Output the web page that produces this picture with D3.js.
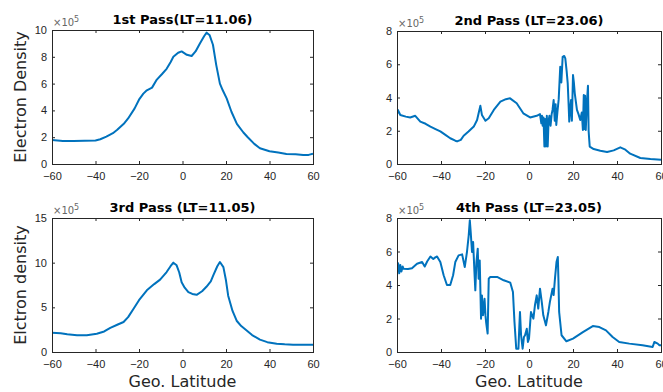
<!DOCTYPE html>
<html>
<head>
<meta charset="utf-8">
<script src="https://cdn.jsdelivr.net/npm/d3@7"></script>
<style>
  body { margin: 0; background: #fff; }
  svg { display: block; font-family: "DejaVu Sans", sans-serif; }
  .tick text { fill: #262626; font-size: 11px; }
  .tick line { stroke: #262626; }
</style>
</head>
<body>
<script>
// values in units of 1e5
const lat1 = [-60, -55, -50, -45, -40, -37.8, -35, -32, -30, -27, -25, -22, -20, -18, -16.4, -14, -11.8, -9.5, -7.3, -5.5, -4.2, -2, -0.4, 2, 4.2, 6, 8, 10, 11.1, 12.5, 14, 15.5, 17.2, 18.5, 20.3, 22.5, 25, 28, 30, 33, 35.6, 40, 44, 47.8, 52, 55.5, 58, 60];
const ne1  = [1.79, 1.72, 1.72, 1.74, 1.76, 1.85, 2.04, 2.3, 2.55, 3.0, 3.4, 4.15, 4.8, 5.25, 5.5, 5.7, 6.3, 6.7, 7.1, 7.6, 8.0, 8.3, 8.4, 8.15, 8.06, 8.4, 9.0, 9.55, 9.8, 9.6, 8.9, 7.4, 6.0, 5.5, 4.9, 3.9, 3.0, 2.35, 2.0, 1.5, 1.17, 0.95, 0.85, 0.75, 0.72, 0.67, 0.68, 0.77];

const lat2 = [-60, -59.6, -58.5, -56, -54, -51.7, -49.4, -47, -44.8, -42.5, -40.3, -38, -35.8, -33.5, -32.7, -31, -29.7, -27.5, -25.1, -23.6, -22.9, -22.1, -21.4, -19.8, -18.3, -16, -13, -10.5, -8.6, -5.6, -2.6, 0.5, 3.5, 5, 5.6, 5.9, 6.2, 6.6, 7, 7.3, 7.7, 8.1, 8.5, 8.9, 9.3, 9.8, 10.3, 10.7, 11.2, 11.7, 12.1, 12.4, 12.9, 13.5, 14.2, 14.7, 15.3, 16.0, 16.5, 17.1, 17.6, 18.0, 18.3, 18.7, 19.1, 19.5, 20, 20.4, 20.8, 21.8, 22.5, 23.3, 24.0, 24.5, 24.9, 25.2, 25.5, 25.8, 26.1, 26.4, 26.8, 27.1, 27.3, 27.6, 29.4, 32.4, 35.5, 38.5, 41.5, 43.8, 46, 50.6, 55.2, 60];
const ne2  = [3.0, 3.25, 2.95, 2.85, 2.8, 2.9, 2.55, 2.42, 2.25, 2.1, 1.96, 1.75, 1.55, 1.4, 1.36, 1.45, 1.7, 1.95, 2.25, 2.65, 3.05, 3.5, 2.95, 2.6, 2.75, 3.25, 3.75, 3.9, 3.95, 3.65, 3.05, 2.8, 2.9, 3.0, 2.45, 2.9, 2.3, 2.8, 1.05, 2.7, 1.05, 2.9, 1.05, 2.6, 2.9, 2.3, 3.0, 3.25, 3.85, 2.6, 3.6, 2.35, 3.1, 3.9, 5.85, 4.9, 6.45, 6.5, 6.35, 5.6, 4.85, 3.6, 2.55, 3.3, 3.85, 2.6, 5.35, 4.9, 4.25, 3.25, 3.0, 2.65, 3.1, 2.05, 4.15, 2.1, 4.1, 2.05, 3.0, 3.85, 4.7, 2.0, 1.6, 1.05, 0.9, 0.8, 0.72, 0.82, 1.0, 0.86, 0.62, 0.36, 0.3, 0.26];

const lat3 = [-60, -56, -53, -48.5, -44, -39.4, -36, -33.2, -30, -27.1, -25, -22.5, -20, -16.4, -13, -10.3, -7.3, -5.5, -4.2, -2.7, -1.5, -0.4, 1, 2.7, 4.5, 6.5, 9, 11, 13, 14.2, 16, 17.2, 18.8, 20, 21, 23, 24.9, 27, 29.5, 32, 35.6, 39, 43.3, 47, 50.8, 55, 60];
const ne3  = [2.16, 2.1, 1.98, 1.87, 1.88, 2.05, 2.3, 2.7, 3.05, 3.36, 3.9, 4.85, 5.8, 6.9, 7.6, 8.1, 8.95, 9.6, 10.0, 9.7, 8.9, 7.8, 7.2, 6.7, 6.5, 6.4, 6.8, 7.3, 7.9, 8.6, 9.6, 10.07, 9.5, 8.0, 6.3, 4.6, 3.5, 2.9, 2.4, 1.9, 1.38, 1.1, 0.93, 0.86, 0.82, 0.8, 0.82];

const lat4 = [-60, -59.5, -59, -58.5, -58, -57.4, -57, -55, -53.2, -50.9, -48.6, -47.4, -46.3, -44.8, -43.5, -42.6, -41.8, -40.3, -38.8, -37.3, -35.8, -34.5, -33.5, -32, -30.4, -29.2, -28.2, -27.4, -26.9, -26.5, -25.9, -25.4, -24.8, -24.4, -23.9, -23.3, -22.9, -22.4, -21.8, -21.4, -20.9, -20.6, -20.2, -19.8, -19.5, -18.8, -18.3, -17.6, -14.5, -11.5, -8.5, -7.3, -6.6, -5.8, -4.8, -4.4, -4.1, -3.6, -2.9, -2.3, -1.8, -1, -0.5, 0, 0.9, 2, 2.7, 3.5, 4.2, 5, 5.8, 6.5, 7.7, 8.8, 9.5, 10.7, 11.2, 11.8, 12.5, 13.1, 13.4, 13.7, 14.8, 17, 20, 24.5, 29, 32, 35, 38, 41, 45.6, 51.6, 56.2, 57, 58.5, 59.3, 60];
const ne4  = [4.8, 5.3, 4.7, 5.2, 4.8, 5.1, 4.97, 4.95, 5.0, 5.27, 5.37, 5.1, 5.4, 5.7, 5.55, 5.65, 5.7, 5.37, 4.58, 4.0, 4.0, 4.58, 5.37, 5.77, 5.83, 5.07, 5.97, 6.96, 7.86, 7.16, 5.97, 6.57, 4.78, 3.68, 5.37, 6.17, 4.38, 5.47, 1.99, 3.38, 2.2, 2.59, 3.18, 2.2, 1.79, 1.1, 4.38, 4.48, 4.48, 4.28, 4.14, 3.58, 1.79, 0.2, 0.2, 1.5, 2.39, 1.0, 0.2, 0.9, 1.0, 1.39, 0.6, 0.8, 2.39, 1.99, 2.79, 3.38, 2.59, 3.78, 2.99, 2.19, 1.59, 2.39, 2.99, 3.78, 3.4, 4.38, 5.37, 5.67, 4.2, 2.39, 1.0, 0.64, 0.8, 1.19, 1.55, 1.49, 1.29, 0.9, 0.6, 0.5, 0.4, 0.3, 0.6, 0.5, 0.4, 0.4];

const xTicks = [-60, -40, -20, 0, 20, 40, 60];

const width = 663;
const height = 392;

const panels = [
    { title: '1st Pass(LT=11.06)', lat: lat1, ne: ne1, yMax: 10, yTicks: [0, 2, 4, 6, 8, 10], ylabel: 'Electron Density', xlabel: null, box: [52, 313, 30, 164] },
    { title: '2nd Pass (LT=23.06)', lat: lat2, ne: ne2, yMax: 8, yTicks: [0, 2, 4, 6, 8], ylabel: null, xlabel: null, box: [397, 661, 31, 164] },
    { title: '3rd Pass (LT=11.05)', lat: lat3, ne: ne3, yMax: 15, yTicks: [0, 5, 10, 15], ylabel: 'Elctron density', xlabel: 'Geo. Latitude', box: [52, 313, 218, 352] },
    { title: '4th Pass (LT=23.05)', lat: lat4, ne: ne4, yMax: 8, yTicks: [0, 2, 4, 6, 8], ylabel: null, xlabel: 'Geo. Latitude', box: [397, 661, 218, 352] }
];

const svg = d3.select('body').append('svg').
    attr('width', width).
    attr('height', height);

panels.forEach((p) => {
    const [x0, x1, y0, y1] = p.box;

    const x = d3.scaleLinear().domain([-60, 60]).range([x0, x1]);
    const y = d3.scaleLinear().domain([0, p.yMax]).range([y1, y0]);

    const g = svg.append('g');

    const clipId = 'clip' + x0 + '_' + y0;
    g.append('clipPath').attr('id', clipId).
        append('rect').
        attr('x', x0).attr('y', y0 - 1).
        attr('width', x1 - x0).attr('height', y1 - y0 + 1);

    const line = d3.line().
        x((d, i) => x(p.lat[i])).
        y((d) => y(d));

    g.append('path').
        attr('clip-path', `url(#${clipId})`).
        attr('d', line(p.ne)).
        attr('fill', 'none').
        attr('stroke', '#0072BD').
        attr('stroke-width', 2).
        attr('stroke-linejoin', 'round');

    // axes, ticks inward like matlab
    g.append('g').
        attr('transform', `translate(0, ${y1})`).
        call(d3.axisBottom(x).tickValues(xTicks).tickSizeInner(-3).tickSizeOuter(0).tickPadding(8)).
        call(a => a.select('.domain').remove());

    g.append('g').
        attr('transform', `translate(0, ${y0})`).
        call(d3.axisTop(x).tickValues(xTicks).tickSizeInner(-3).tickSizeOuter(0).tickFormat('')).
        call(a => a.select('.domain').remove());

    g.append('g').
        attr('transform', `translate(${x0}, 0)`).
        call(d3.axisLeft(y).tickValues(p.yTicks).tickSizeInner(-3).tickSizeOuter(0).tickPadding(5)).
        call(a => a.select('.domain').remove());

    g.append('g').
        attr('transform', `translate(${x1}, 0)`).
        call(d3.axisRight(y).tickValues(p.yTicks).tickSizeInner(-3).tickSizeOuter(0).tickFormat('')).
        call(a => a.select('.domain').remove());

    g.selectAll('.tick text').attr('font-family', null).attr('font-size', null);

    g.append('rect').
        attr('x', x0).attr('y', y0).
        attr('width', x1 - x0).attr('height', y1 - y0).
        attr('fill', 'none').
        attr('stroke', '#262626').
        attr('stroke-width', 1).
        attr('shape-rendering', 'crispEdges');

    const mult = g.append('text').
        attr('x', x0 + 1).
        attr('y', y0 - 4).
        attr('fill', '#666').
        attr('font-size', 10);
    mult.append('tspan').text('\u00d710');
    mult.append('tspan').attr('dy', -4).attr('font-size', 8).text('5');

    g.append('text').
        attr('x', (x0 + x1) / 2).
        attr('y', y0 - 6).
        attr('text-anchor', 'middle').
        attr('font-weight', 'bold').
        attr('font-size', 13).
        attr('fill', '#000').
        text(p.title);

    if (p.ylabel) {
        g.append('text').
            attr('transform', `translate(26, ${(y0 + y1) / 2}) rotate(-90)`).
            attr('text-anchor', 'middle').
            attr('font-size', 16).
            attr('fill', '#262626').
            text(p.ylabel);
    }

    if (p.xlabel) {
        g.append('text').
            attr('x', (x0 + x1) / 2).
            attr('y', y1 + 35).
            attr('text-anchor', 'middle').
            attr('font-size', 16).
            attr('fill', '#262626').
            text(p.xlabel);
    }
});
</script>
</body>
</html>
